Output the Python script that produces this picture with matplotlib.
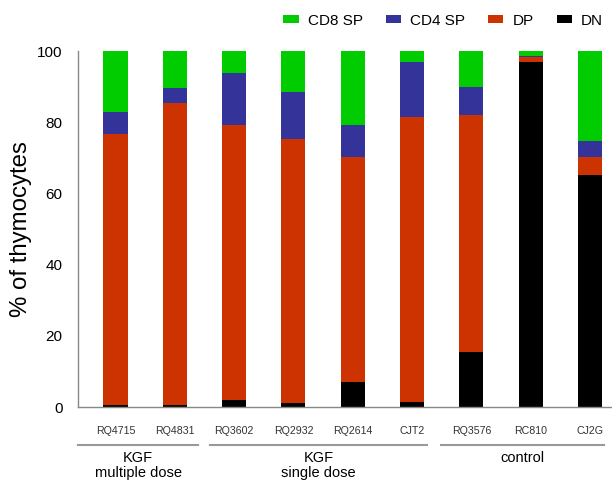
import numpy as np
import matplotlib
matplotlib.use('Agg')
import matplotlib.pyplot as plt

plt.rcParams['font.family'] = ['Liberation Sans', 'DejaVu Sans']

# Data (% of thymocytes)
samples = ['RQ4715', 'RQ4831', 'RQ3602', 'RQ2932', 'RQ2614', 'CJT2', 'RQ3576', 'RC810', 'CJ2G']
dn  = [0.7, 0.6, 2.0, 1.0, 6.9, 1.5, 15.5, 97.0, 65.2]
dp  = [76.1, 84.7, 77.2, 74.4, 63.4, 80.0, 66.4, 1.2, 5.1]
cd4 = [6.1, 4.2, 14.5, 13.2, 8.9, 15.5, 8.1, 0.3, 4.4]
cd8 = [17.1, 10.5, 6.3, 11.4, 20.8, 3.0, 10.0, 1.5, 25.3]

groups = ['KGF\nmultiple dose', 'KGF\nsingle dose', 'control']

colors = {'CD8 SP': '#00cc00', 'CD4 SP': '#333399', 'DP': '#cc3300', 'DN': '#000000'}

x = np.arange(len(samples))
w = 0.405

fig = plt.figure(figsize=(6.12, 4.82), dpi=100)
ax = fig.add_axes([0.127, 0.1556, 0.873, 0.7385])

b_dn = ax.bar(x, dn, w, color=colors['DN'], label='DN')
b_dp = ax.bar(x, dp, w, bottom=dn, color=colors['DP'], label='DP')
bot = np.array(dn) + np.array(dp)
b_cd4 = ax.bar(x, cd4, w, bottom=bot, color=colors['CD4 SP'], label='CD4 SP')
bot = bot + np.array(cd4)
b_cd8 = ax.bar(x, cd8, w, bottom=bot, color=colors['CD8 SP'], label='CD8 SP')

ax.set_xlim(-0.637, 8.37)
ax.set_ylim(0, 100)
ax.set_yticks([0, 20, 40, 60, 80, 100])
ax.set_xticks(x)
ax.set_xticklabels(samples, fontsize=7.7, color='#333333')
ax.tick_params(axis='y', length=0, pad=11, labelsize=11)
ax.tick_params(axis='x', length=0, pad=14)
for s in ['top', 'right']:
    ax.spines[s].set_visible(False)
for s in ['left', 'bottom']:
    ax.spines[s].set_color('#888888')
    ax.spines[s].set_linewidth(1.0)

ax.set_ylabel('% of thymocytes', fontsize=17.3, va='center')
ax.yaxis.set_label_coords(-0.106, 0.5)

# group brackets under the sample labels
trans = ax.get_xaxis_transform()
spans = [(-0.63, 1.39), (1.59, 5.25), (5.49, 8.24)]
for (x0, x1), name in zip(spans, groups):
    ax.plot([x0, x1], [-0.107, -0.107], color='#999999', lw=1.5,
            transform=trans, clip_on=False)
    ax.text((x0 + x1) / 2, -0.125, name, transform=trans, ha='center', va='top',
            fontsize=10.5, linespacing=1.05)

fig.legend([b_cd8, b_cd4, b_dp, b_dn], ['CD8 SP', 'CD4 SP', 'DP', 'DN'],
           loc='upper right', bbox_to_anchor=(1.008, 1.0), ncol=4, frameon=False,
           fontsize=11, handlelength=1.0, handleheight=0.4, handletextpad=0.6,
           columnspacing=1.5)

fig.savefig('out.png', dpi=100)
